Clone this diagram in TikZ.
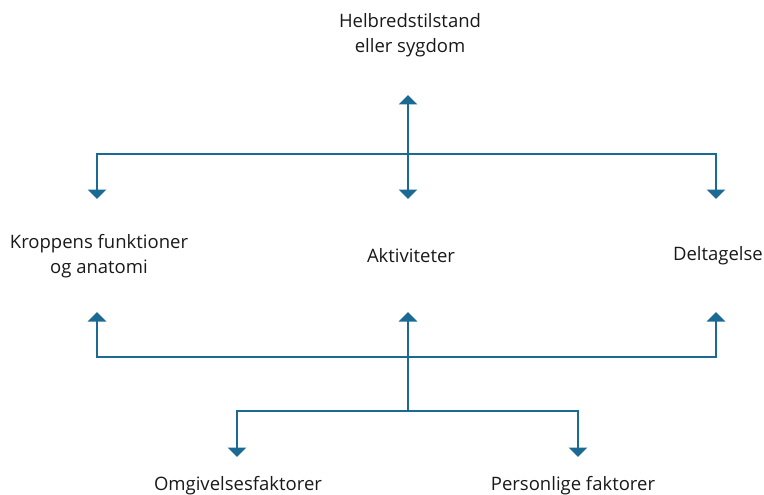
\documentclass[tikz,border=0pt]{standalone}
\usepackage{fontspec}
\setmainfont{Open Sans}
\usetikzlibrary{arrows.meta}
\definecolor{lineblue}{RGB}{26,106,148}
\begin{document}
\begin{tikzpicture}[x=1pt,y=-1pt,
  conn/.style={draw=lineblue,line width=2.2pt},
  arr/.style={conn,-{Triangle[width=18pt,length=9.5pt]}},
  lbl/.style={font=\fontsize{18.5}{24.5}\selectfont,align=center,inner sep=0pt,text=black!90}]
\useasboundingbox (0,0) rectangle (764,495);
% labels
\node[lbl] (health) at (410,35) {Helbredstilstand\\eller sygdom};
\node[lbl] (body) at (99,256) {Kroppens funktioner\\og anatomi};
\node[lbl] (act) at (411,256) {Aktiviteter};
\node[lbl,anchor=east] (part) at (763,256) {Deltagelse};
\node[lbl] (env) at (238,485.5) {Omgivelsesfaktorer};
\node[lbl] (pers) at (573,485.5) {Personlige faktorer};
% junctions and arrow tips
\coordinate (jt) at (408,154);
\coordinate (jb) at (408,357);
\coordinate (jl) at (408,411);
\coordinate (tH) at (408,95);
\coordinate (tB1) at (97,199);
\coordinate (tA1) at (408,199);
\coordinate (tP1) at (716,199);
\coordinate (tB2) at (97,312);
\coordinate (tA2) at (408,312);
\coordinate (tP2) at (716,312);
\coordinate (tE) at (237,457);
\coordinate (tF) at (578,457);
% top group
\draw[arr] (jt) -- (tH);
\draw[arr] (jt) -- (tA1);
\draw[arr] (jt) -| (tB1);
\draw[arr] (jt) -| (tP1);
% bottom group
\draw[conn] (jb) -- (jl);
\draw[arr] (jb) -- (tA2);
\draw[arr] (jb) -| (tB2);
\draw[arr] (jb) -| (tP2);
\draw[arr] (jl) -| (tE);
\draw[arr] (jl) -| (tF);
\end{tikzpicture}
\end{document}
